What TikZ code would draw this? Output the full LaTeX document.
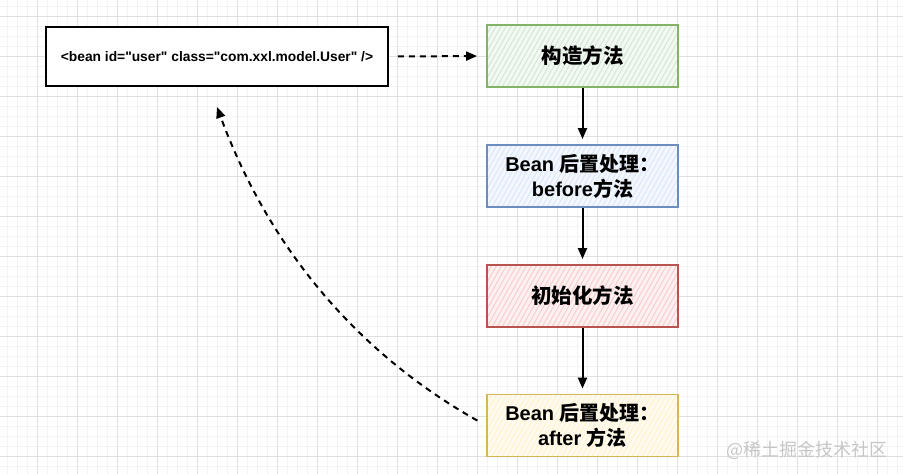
\documentclass[tikz,border=0pt]{standalone}
\usepackage{fontspec}
\setmainfont{Liberation Sans}
\newfontfamily\arial{Liberation Sans}
\newfontfamily\cjk{Noto Sans CJK SC}
\usetikzlibrary{arrows.meta}
\definecolor{gmaj}{HTML}{E0E0E0}
\definecolor{gmin}{HTML}{F3F3F3}
\definecolor{gfill}{HTML}{D5E8D4}\definecolor{gline}{HTML}{82B366}
\definecolor{bfill}{HTML}{DAE8FC}\definecolor{bline}{HTML}{6C8EBF}
\definecolor{rfill}{HTML}{F8CECC}\definecolor{rline}{HTML}{B85450}
\definecolor{yfill}{HTML}{FFF2CC}\definecolor{yline}{HTML}{D6B656}
\tikzset{
  hatch/.style={path picture={\foreach \k in {0,...,50}{\draw[#1,line width=1pt] ([xshift={\k*5pt-40pt}]path picture bounding box.south west) -- ++(36pt,64pt);}}},
  stepbox/.style n args={2}{draw=#2, fill=#1!30, line width=1.8pt, hatch=#1, minimum width=191pt, minimum height=62pt, align=center, inner sep=0pt},
  beanbox/.style={draw=black, line width=1.8pt, fill=white, minimum width=342pt, minimum height=59pt, inner sep=0pt, font=\arial\fontsize{13.8}{15}\selectfont\bfseries},
  bigtxt/.style={font=\fontsize{20.5}{25}\selectfont\bfseries},
  midtxt/.style={font=\fontsize{20}{25}\selectfont\bfseries},
  flow/.style={-{Triangle[length=11pt,width=9pt]}, line width=2pt, shorten >=5pt},
  dasharrow/.style={-{Triangle[length=11pt,width=9pt]}, line width=2pt, dash pattern=on 6pt off 5pt},
}
\begin{document}
\begin{tikzpicture}[x=1pt,y=-1pt]
\useasboundingbox (0,0) rectangle (903,474);
\fill[white] (0,0) rectangle (903,474);
\foreach \x in {7,17,...,897} \draw[gmin,line width=0.6pt] (\x,0) -- (\x,474);
\foreach \y in {6,16,...,470} \draw[gmin,line width=0.6pt] (0,\y) -- (903,\y);
\foreach \x in {37,77,...,897} \draw[gmaj,line width=0.9pt] (\x,0) -- (\x,474);
\foreach \y in {16,56,...,470} \draw[gmaj,line width=0.9pt] (0,\y) -- (903,\y);

\node[beanbox] (bean) at (217,56.5) {<bean id="user" class="com.xxl.model.User" />};
\node[stepbox={gfill}{gline}, bigtxt] (b1) at (582.5,56) {{\cjk 构造方法}};
\node[stepbox={bfill}{bline}, midtxt] (b2) at (582.5,176) {Bean {\cjk 后置处理：}\\before{\cjk 方法}};
\node[stepbox={rfill}{rline}, bigtxt] (b3) at (582.5,296) {{\cjk 初始化方法}};
\node[stepbox={yfill}{yline}, midtxt] (b4) at (582.5,425.5) {Bean {\cjk 后置处理：}\\after {\cjk 方法}};
\node[text=gray!45, font=\cjk\fontsize{18}{20}\selectfont, anchor=east] (wm) at (891,450) {@稀土掘金技术社区};

\coordinate (tip) at (217,107);
\draw[flow] (b1.south) -- (b2.north);
\draw[flow] (b2.south) -- (b3.north);
\draw[flow] (b3.south) -- (b4.north);
\draw[dasharrow, shorten <=9pt, shorten >=9pt] (bean.east) -- (b1.west);
\draw[dasharrow, shorten <=10pt] (b4.west) .. controls (354,351) and (268,245) .. (tip);
\end{tikzpicture}
\end{document}
